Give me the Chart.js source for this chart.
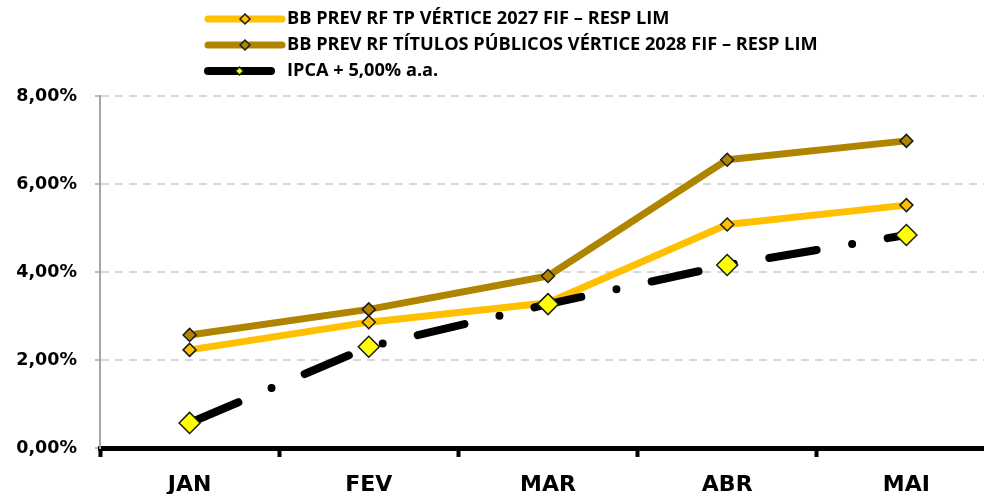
<!DOCTYPE html>
<html><head><meta charset="utf-8">
<style>html,body{margin:0;padding:0;overflow:hidden;background:#fff}canvas{display:block}</style>
<script src="https://cdn.jsdelivr.net/npm/chart.js@4"></script>
</head><body>
<canvas id="c" width="984" height="494" style="width:984px;height:494px"></canvas>
<script>
const months = ['JAN', 'FEV', 'MAR', 'ABR', 'MAI'];
const seriesNames = [
  'BB PREV RF TP VÉRTICE 2027 FIF – RESP LIM',
  'BB PREV RF TÍTULOS PÚBLICOS VÉRTICE 2028 FIF – RESP LIM',
  'IPCA + 5,00% a.a.'
];
const fund2027 = [2.23, 2.86, 3.30, 5.08, 5.52];
const fund2028 = [2.57, 3.15, 3.91, 6.55, 6.98];
const ipca5 = [0.57, 2.30, 3.27, 4.16, 4.84];
const yTickValues = [0, 2, 4, 6, 8];
const yTickLabels = ['0,00%', '2,00%', '4,00%', '6,00%', '8,00%'];

const YELLOW = '#FFC000';
const BROWN = '#AF8500';
const MARKER_EDGE = '#1a1a1a';

// the plot area in the original runs slightly past the right edge of the picture
const extendRight = {
  id: 'extendRight',
  afterLayout(chart) {
    const right = 996;
    const ca = chart.chartArea;
    ca.right = right; ca.width = ca.right - ca.left;
    const xs = chart.scales.x;
    xs.right = right; xs.width = xs.right - xs.left;
    xs.configure();
  }
};

const legendRows = [19, 45, 71];
const legendPlugin = {
  id: 'customLegend',
  afterDraw(chart) {
    const ctx = chart.ctx;
    chart.data.datasets.forEach((ds, i) => {
      const y = legendRows[i];
      const x0 = 208, x1 = (i === 2) ? 271 : 282;
      ctx.save();
      ctx.lineCap = 'round';
      ctx.strokeStyle = ds.borderColor;
      ctx.lineWidth = ds.borderWidth;
      ctx.setLineDash([]);
      ctx.beginPath(); ctx.moveTo(x0, y); ctx.lineTo(x1, y); ctx.stroke();
      const mx = (x0 + x1) / 2, r = (i === 2) ? 4 : 5;
      ctx.beginPath();
      ctx.moveTo(mx - r, y); ctx.lineTo(mx, y - r); ctx.lineTo(mx + r, y); ctx.lineTo(mx, y + r);
      ctx.closePath();
      ctx.fillStyle = ds.pointBackgroundColor; ctx.fill();
      ctx.lineWidth = 1.5; ctx.strokeStyle = MARKER_EDGE; ctx.stroke();
      ctx.fillStyle = '#000';
      ctx.font = 'bold 18.2px "Open Sans"';
      ctx.textBaseline = 'middle'; ctx.textAlign = 'left';
      ctx.fillText(ds.label, 287, y);
      ctx.restore();
    });
  }
};

new Chart(document.getElementById('c'), {
  type: 'line',
  data: {
    labels: months,
    datasets: [
      {
        label: seriesNames[0], data: fund2027, order: 1,
        borderColor: YELLOW, borderWidth: 7, tension: 0, borderJoinStyle: 'round',
        pointStyle: 'rectRot', pointRadius: 6.5, pointHoverRadius: 6.5,
        pointBackgroundColor: YELLOW, pointBorderColor: MARKER_EDGE, pointBorderWidth: 1.5
      },
      {
        label: seriesNames[1], data: fund2028, order: 2,
        borderColor: BROWN, borderWidth: 7, tension: 0, borderJoinStyle: 'round',
        pointStyle: 'rectRot', pointRadius: 6.5, pointHoverRadius: 6.5,
        pointBackgroundColor: BROWN, pointBorderColor: MARKER_EDGE, pointBorderWidth: 1.5
      },
      {
        label: seriesNames[2], data: ipca5, order: 0,
        borderColor: '#000', borderWidth: 8, tension: 0,
        borderDash: [48, 36, 0, 36], borderDashOffset: -5, borderCapStyle: 'round',
        pointStyle: 'rectRot', pointRadius: 10.5, pointHoverRadius: 10.5,
        pointBackgroundColor: '#FFFF00', pointBorderColor: MARKER_EDGE, pointBorderWidth: 1.5
      }
    ]
  },
  options: {
    responsive: false,
    animation: false,
    devicePixelRatio: 1,
    layout: { padding: { top: 96, right: 0, left: 0, bottom: 0 } },
    plugins: { legend: { display: false }, tooltip: { enabled: false }, title: { display: false } },
    scales: {
      x: {
        offset: true,
        afterFit: (s) => { s.height = 46; },
        grid: { offset: true, drawOnChartArea: false, drawTicks: true, tickLength: 9, tickWidth: 4, tickColor: '#000', color: '#000' },
        border: { display: true, color: '#000', width: 5 },
        ticks: { color: '#000', padding: 15, font: { family: 'DejaVu Sans', weight: 'bold', size: 22 } }
      },
      y: {
        min: 0, max: 8,
        afterFit: (s) => { s.width = 100; },
        afterBuildTicks: (s) => { s.ticks = yTickValues.map(v => ({ value: v })); },
        grid: { color: '#d9d9d9', lineWidth: 2, drawTicks: true, tickLength: 5, tickColor: '#a6a6a6', tickWidth: 1.5, tickBorderDash: [] },
        border: { display: true, color: '#a6a6a6', width: 2, dash: [8, 6] },
        ticks: {
          color: '#000', padding: 18,
          font: { family: 'DejaVu Sans', weight: 'bold', size: 17.5 },
          callback: (v) => yTickLabels[yTickValues.indexOf(v)]
        }
      }
    }
  },
  plugins: [extendRight, legendPlugin]
});
</script>
</body></html>
